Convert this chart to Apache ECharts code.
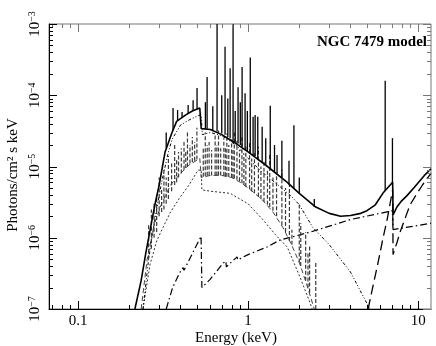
<!DOCTYPE html>
<html>
<head>
<meta charset="utf-8">
<script src="https://cdn.jsdelivr.net/npm/echarts@6/dist/echarts.min.js"></script>
<style>
  html, body { margin: 0; padding: 0; background: #fff; }
  #chart { width: 436px; height: 346px; }
</style>
</head>
<body>
<div id="chart"></div>
<script>
// 能量 (keV) 与光子流量 [E, F]，都是从图上读出来的
var totalModel = [
  [0.216, 1e-7], [0.235, 2.5e-7], [0.25, 6e-7], [0.27, 1.6e-6], [0.284, 3e-6], [0.30, 5.5e-6],
  [0.325, 1.6e-5], [0.357, 3e-5], [0.38, 4.3e-5], [0.43, 5.3e-5], [0.47, 6e-5], [0.52, 6.6e-5],
  [0.53, 3.4e-5], [0.6, 3.3e-5], [0.7, 2.8e-5], [0.85, 2.1e-5], [1.0, 1.6e-5], [1.3, 1e-5],
  [1.7, 6e-6], [2.0, 4.2e-6], [2.5, 2.7e-6], [3.0, 2.2e-6], [3.5, 2.0e-6], [4.0, 2.05e-6],
  [4.6, 2.2e-6], [5.0, 2.4e-6], [5.6, 2.9e-6], [6.2, 4.2e-6], [6.6, 5.0e-6], [7.08, 6.0e-6],
  [7.12, 2.1e-6], [7.5, 2.7e-6], [8.0, 3.3e-6], [8.6, 3.9e-6], [9.5, 5.1e-6], [10.3, 6.4e-6],
  [11.0, 7.7e-6], [11.9, 9.3e-6]
];
// 总模型上的发射线 [E, 底, 峰]
var totalLines = [
  [0.33, 1.8e-5, 3.0e-5], [0.362, 3.2e-5, 6.6e-5], [0.385, 4.4e-5, 6.2e-5], [0.409, 4.9e-5, 5.8e-5],
  [0.444, 5.5e-5, 7.3e-5], [0.475, 6e-5, 8.5e-5], [0.501, 6.3e-5, 1.26e-4], [0.561, 3.4e-5, 8e-5],
  [0.574, 3.4e-5, 1.8e-4], [0.62, 3.2e-5, 7e-5], [0.657, 3.1e-5, 1e-3], [0.70, 2.9e-5, 1.0e-4],
  [0.732, 2.8e-5, 4.8e-4], [0.76, 2.6e-5, 9e-5], [0.784, 2.5e-5, 2.4e-4], [0.816, 2.3e-5, 1e-3],
  [0.84, 2.2e-5, 6e-5], [0.873, 2.1e-5, 1.3e-4], [0.90, 2.0e-5, 8e-5], [0.922, 1.9e-5, 2.5e-4],
  [0.960, 1.75e-5, 1.07e-4], [0.99, 1.65e-5, 6e-5], [1.03, 1.55e-5, 3.4e-4], [1.07, 1.45e-5, 5e-5],
  [1.10, 1.4e-5, 5.3e-5], [1.14, 1.3e-5, 5e-5], [1.21, 1.15e-5, 3.6e-5], [1.27, 1.05e-5, 2.5e-5],
  [1.35, 9.5e-6, 7.1e-5], [1.43, 8.5e-6, 2e-5], [1.48, 8e-6, 1.45e-5], [1.58, 7e-6, 2.3e-5],
  [1.74, 5.6e-6, 1.2e-5], [1.86, 4.9e-6, 3.8e-5], [2.0, 4.2e-6, 7e-6], [2.45, 2.7e-6, 3.5e-6],
  [6.4, 4.6e-6, 1.6e-4], [7.06, 5.8e-6, 2.5e-5]
];
// 热等离子体连续谱
var thermal = [
  [0.241, 1e-7], [0.26, 5e-7], [0.284, 1.9e-6], [0.31, 6e-6], [0.34, 1.6e-5], [0.357, 2.4e-5],
  [0.40, 3.8e-5], [0.45, 4.5e-5], [0.51, 5.2e-5], [0.53, 5.3e-5], [0.538, 2.8e-5], [0.6, 3.0e-5],
  [0.7, 2.7e-5], [0.85, 2.0e-5], [1.0, 1.3e-5], [1.2, 8.5e-6], [1.5, 5.5e-6], [1.8, 3.8e-6],
  [2.0, 2.9e-6], [2.4, 1.4e-6], [3.0, 8e-7], [4.0, 3.3e-7], [5.2, 1e-7]
];
// 光致电离成分
var photoUpper = [
  [0.235, 1e-7], [0.255, 5e-7], [0.28, 1.5e-6], [0.31, 3e-6], [0.35, 5.5e-6], [0.40, 8e-6],
  [0.45, 1.05e-5], [0.52, 1.3e-5], [0.53, 7e-6], [0.6, 7.5e-6], [0.7, 7.5e-6], [0.8, 7e-6],
  [0.9, 6e-6], [1.0, 5e-6], [1.2, 3.5e-6], [1.4, 2.3e-6], [1.6, 1.4e-6], [1.8, 8e-7],
  [2.0, 4.5e-7], [2.2, 2.3e-7], [2.45, 1e-7]
];
var photoLower = [
  [0.241, 1e-7], [0.265, 4.2e-7], [0.29, 9e-7], [0.316, 1.4e-6], [0.35, 2.3e-6], [0.398, 3.7e-6],
  [0.45, 5.5e-6], [0.508, 8.9e-6], [0.53, 8.9e-6], [0.535, 4.7e-6], [0.6, 4.5e-6], [0.784, 4.2e-6],
  [1.0, 3e-6], [1.22, 1.8e-6], [1.45, 1.1e-6], [1.70, 7.4e-7], [2.02, 2.8e-7], [2.32, 1.2e-7],
  [2.38, 1e-7]
];
var photoLines = [
  [0.26, 5e-7, 1.5e-6], [0.27, 7e-7, 2.5e-6], [0.28, 1e-6, 3e-6], [0.29, 1.2e-6, 4e-6],
  [0.30, 2e-6, 7e-6], [0.31, 2.3e-6, 5e-6], [0.32, 2.5e-6, 9e-6], [0.33, 3e-6, 7e-6],
  [0.34, 3.5e-6, 1.4e-5], [0.355, 4.5e-6, 1.1e-5], [0.37, 5.5e-6, 2e-5], [0.38, 6e-6, 1.3e-5],
  [0.39, 7e-6, 1.6e-5], [0.405, 8e-6, 1.8e-5], [0.42, 9e-6, 2.2e-5], [0.43, 9.5e-6, 1.7e-5],
  [0.44, 1e-5, 3e-5], [0.455, 1.1e-5, 2e-5], [0.47, 1.15e-5, 2.6e-5], [0.485, 1.2e-5, 2.2e-5],
  [0.50, 1.25e-5, 3.5e-5], [0.545, 7.2e-6, 1.8e-5], [0.56, 7.3e-6, 3e-5], [0.575, 7.4e-6, 2e-5],
  [0.59, 7.5e-6, 2.2e-5], [0.61, 7.5e-6, 1.7e-5], [0.64, 7.5e-6, 2.8e-5], [0.655, 7.5e-6, 2e-5],
  [0.67, 7.5e-6, 3.2e-5], [0.69, 7.5e-6, 1.8e-5], [0.72, 7.4e-6, 2.5e-5], [0.735, 7.3e-6, 1.9e-5],
  [0.75, 7.2e-6, 2.9e-5], [0.77, 7.1e-6, 2e-5], [0.80, 7e-6, 2.4e-5], [0.815, 6.9e-6, 1.8e-5],
  [0.83, 6.8e-6, 3e-5], [0.86, 6.5e-6, 2.3e-5], [0.89, 6.2e-6, 1.7e-5], [0.92, 5.8e-6, 2.6e-5],
  [0.945, 5.5e-6, 1.5e-5], [0.97, 5.2e-6, 2e-5], [1.02, 4.8e-6, 2.2e-5], [1.05, 4.5e-6, 1.3e-5],
  [1.09, 4.2e-6, 1.6e-5], [1.15, 3.8e-6, 1.9e-5], [1.19, 3.5e-6, 1e-5], [1.24, 3.2e-6, 1.2e-5],
  [1.3, 2.9e-6, 9e-6], [1.34, 2.7e-6, 1.5e-5], [1.4, 2.4e-6, 7e-6], [1.47, 2e-6, 8e-6],
  [1.58, 1.5e-6, 9e-6], [1.66, 1.2e-6, 5e-6], [1.75, 9e-7, 6e-6], [1.81, 8e-7, 1.3e-6],
  [2.0, 4.5e-7, 3e-6], [2.04, 4e-7, 1.6e-6], [2.18, 2.5e-7, 1.2e-6], [2.25, 2e-7, 6e-7],
  [2.3, 1.7e-7, 8e-7], [2.5, 1e-7, 4.5e-7]
];
// 幂律
var powerLaw = [
  [0.33, 1e-7], [0.36, 2.0e-7], [0.398, 3.3e-7], [0.415, 3.8e-7], [0.42, 3.5e-7], [0.47, 6e-7],
  [0.529, 1.05e-6], [0.535, 2.0e-7], [0.598, 2.6e-7], [0.713, 4.4e-7], [0.74, 4.7e-7], [0.745, 3.9e-7],
  [0.861, 5.4e-7], [0.87, 4.9e-7], [1.0, 5.8e-7], [1.29, 7.4e-7], [1.54, 9.3e-7], [2.32, 1.2e-6],
  [4.0, 1.8e-6], [7.08, 2.4e-6], [7.12, 1.3e-6], [11.9, 1.6e-6]
];
// 反射成分
var reflection = [
  [5.08, 1e-7], [5.4, 2e-7], [5.74, 3.9e-7], [6.0, 6.5e-7], [6.22, 1e-6], [6.57, 1.8e-6],
  [6.8, 2.8e-6], [7.08, 4.7e-6], [7.12, 5.8e-7], [7.5, 8.5e-7], [7.83, 1.2e-6], [8.4, 1.9e-6],
  [8.97, 2.9e-6], [9.8, 4.1e-6], [10.6, 5.5e-6], [11.3, 6.8e-6], [11.9, 8e-6]
];
// 刻度
var xMajorTicks = [0.1, 1, 10];
var xMinorTicks = [0.07, 0.08, 0.09, 0.2, 0.3, 0.4, 0.5, 0.6, 0.7, 0.8, 0.9, 2, 3, 4, 5, 6, 7, 8, 9];
var yMajorTicks = [1e-7, 1e-6, 1e-5, 1e-4, 1e-3];
var yMinorTicks = [];
[1e-7, 1e-6, 1e-5, 1e-4].forEach(function (d) {
  [2, 3, 4, 5, 6, 7, 8, 9].forEach(function (m) { yMinorTicks.push(m * d); });
});

var serif = '"Liberation Serif", "DejaVu Serif", serif';
var chart = echarts.init(document.getElementById('chart'));

function isPow10(v) {
  var l = Math.log10(v);
  return Math.abs(l - Math.round(l)) < 1e-6;
}

function tickSeries(values, dir, len) {
  return {
    type: 'custom',
    silent: true,
    z: 5,
    data: values.map(function (v) { return dir === 'x' ? [v, 1e-6] : [1, v]; }),
    renderItem: function (params, api) {
      var cs = params.coordSys;
      var p = api.coord([api.value(0), api.value(1)]);
      var a = {stroke: '#000', lineWidth: 1};
      var b = {stroke: '#777', lineWidth: 1};
      if (dir === 'x') {
        var x = Math.round(p[0]) + 0.5;
        return {type: 'group', children: [
          {type: 'line', shape: {x1: x, y1: cs.y + cs.height, x2: x, y2: cs.y + cs.height - len}, style: a},
          {type: 'line', shape: {x1: x, y1: cs.y, x2: x, y2: cs.y + len}, style: b}
        ]};
      }
      var y = Math.round(p[1]) + 0.5;
      return {type: 'group', children: [
        {type: 'line', shape: {x1: cs.x, y1: y, x2: cs.x + len, y2: y}, style: a},
        {type: 'line', shape: {x1: cs.x + cs.width, y1: y, x2: cs.x + cs.width - len, y2: y}, style: b}
      ]};
    }
  };
}

function spikeSeries(lines, color, dash, width) {
  return {
    type: 'custom',
    silent: true,
    z: 3,
    encode: {x: 0, y: [1, 2]},
    data: lines,
    renderItem: function (params, api) {
      var p0 = api.coord([api.value(0), api.value(1)]);
      var p1 = api.coord([api.value(0), api.value(2)]);
      return {type: 'line', shape: {x1: p0[0], y1: p0[1], x2: p1[0], y2: p1[1]},
        style: {stroke: color, lineWidth: width, lineDash: dash}};
    }
  };
}

function curve(data, color, width, type, z) {
  return {
    type: 'line', data: data, showSymbol: false, symbol: 'none', z: z || 2,
    lineStyle: {color: color, width: width, type: type}
  };
}

chart.setOption({
  animation: false,
  grid: {left: 49, right: 5, top: 24, bottom: 37, outerBoundsMode: 'none', containLabel: false,
    show: true, borderColor: '#777', borderWidth: 1},
  xAxis: {
    type: 'log', logBase: 10, min: 0.0675, max: 11.9, splitNumber: 2,
    axisLine: {lineStyle: {color: '#000'}}, axisTick: {show: false}, splitLine: {show: false},
    axisLabel: {
      margin: 5, fontFamily: serif, fontSize: 15, color: '#000',
      formatter: function (v) { return isPow10(v) ? String(+v.toPrecision(3)) : ''; }
    }
  },
  yAxis: {
    type: 'log', logBase: 10, min: 1e-7, max: 1e-3,
    axisLine: {lineStyle: {color: '#000'}}, axisTick: {show: false}, splitLine: {show: false},
    axisLabel: {
      rotate: 90, margin: 6, color: '#000',
      formatter: function (v) {
        if (!isPow10(v)) return '';
        return '{b|10}{s|−' + (-Math.round(Math.log10(v))) + '}';
      },
      rich: {
        b: {fontFamily: serif, fontSize: 15, color: '#000', lineHeight: 16},
        s: {fontFamily: serif, fontSize: 10, color: '#000', verticalAlign: 'top', lineHeight: 16, padding: [0, 0, 6, 0]}
      }
    }
  },
  graphic: [
    {type: 'text', x: 13, y: 175, rotation: Math.PI / 2,
      style: {text: 'Photons/cm² s keV', font: '15px ' + serif, fill: '#000', align: 'center', verticalAlign: 'middle'}},
    {type: 'text', x: 236, y: 338,
      style: {text: 'Energy (keV)', font: '15px ' + serif, fill: '#000', align: 'center', verticalAlign: 'middle'}},
    {type: 'text', right: 9, top: 35,
      style: {text: 'NGC 7479 model', font: 'bold 15px ' + serif, fill: '#000'}}
  ],
  series: [
    curve(photoLower, '#333', 1, [2, 2], 1),
    curve(photoUpper, '#444', 1, [5, 3], 1),
    spikeSeries(photoLines, '#3a3a3a', [4, 2], 1.2),
    curve(thermal, '#000', 1, [3, 2, 1, 2, 1, 2], 2),
    curve(powerLaw, '#000', 1.2, [7, 3, 1.5, 3], 2),
    curve(reflection, '#000', 1.3, [10, 5], 2),
    spikeSeries(totalLines, '#000', null, 1.3),
    curve(totalModel, '#000', 1.6, 'solid', 4),
    tickSeries(xMajorTicks, 'x', 8),
    tickSeries(xMinorTicks, 'x', 4),
    tickSeries(yMajorTicks, 'y', 8),
    tickSeries(yMinorTicks, 'y', 4)
  ]
});
</script>
</body>
</html>
